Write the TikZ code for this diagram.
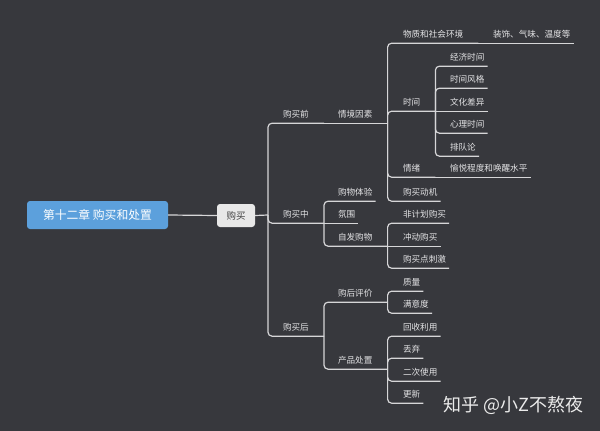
\documentclass[tikz,border=0pt]{standalone}
\usepackage{fontspec}
\newfontfamily\cjk{Noto Sans CJK SC}
\definecolor{bg}{RGB}{55,56,61}
\definecolor{linec}{RGB}{214,214,216}
\definecolor{txt}{RGB}{228,228,230}
\definecolor{rootblue}{RGB}{92,160,220}
\definecolor{buygray}{RGB}{232,232,232}
\begin{document}
\begin{tikzpicture}[x=1pt,y=-1pt,
  link/.style={draw=linec, line width=1.2pt, rounded corners=4pt},
  topic/.style={anchor=text, yshift=5.5pt, inner xsep=15pt, inner ysep=3.5pt,
    text height=7pt, text depth=2pt, text=txt, font=\cjk\fontsize{8.6}{10}\selectfont},
  leaf/.style={topic, inner xsep=3pt},
  rootbox/.style={fill=rootblue, rounded corners=3pt, minimum width=141pt, minimum height=28pt,
    inner sep=0pt, text=white, font=\cjk\fontsize{11.8}{14}\selectfont},
  buybox/.style={fill=buygray, rounded corners=3pt, minimum width=38pt, minimum height=23pt,
    inner sep=0pt, text=black!75, font=\cjk\fontsize{9.5}{12}\selectfont},
  sign/.style={anchor=west, inner sep=0pt, text=white!92!black, font=\cjk\fontsize{18}{20}\selectfont}]
\useasboundingbox (0,0) rectangle (600,431);
\fill[bg] (0,0) rectangle (600,431);

\node[rootbox] (root) at (97.5,215) {第十二章 购买和处置};
\node[buybox] (buy) at (236,215.5) {购买};
\coordinate (hub) at (268,215);
\draw[link] (root.east) -- (buy.west);
\draw[link] (buy.east) -- (hub);

\node[topic] (pre) at (283,123) {购买前};
\node[topic] (mid) at (283,223) {购买中};
\node[topic] (post) at (283,336) {购买后};
\foreach \c in {pre,mid,post} \draw[link] (hub) |- (\c.south east);

\node[topic] (sit) at (338,123) {情境因素};
\draw[link] (pre.south east) -- (sit.south east);

\node[leaf] (exp) at (338,201) {购物体验};
\node[leaf] (atm) at (338,223) {氛围};
\node[topic] (spon) at (338,246) {自发购物};
\draw[link] (mid.south east) -- (atm.south east);
\foreach \c in {exp,spon} \draw[link] (mid.south east) |- (\c.south east);

\node[topic] (eval) at (338,302) {购后评价};
\node[topic] (disp) at (338,369) {产品处置};
\foreach \c in {eval,disp} \draw[link] (post.south east) |- (\c.south east);

\node[topic] (env) at (403,43) {物质和社会环境};
\node[topic] (time) at (403,111) {时间};
\node[topic] (mood) at (403,177) {情绪};
\node[leaf] (motive) at (403,201) {购买动机};
\foreach \c in {env,time,mood,motive} \draw[link] (sit.south east) |- (\c.south east);

\node[leaf] (deco) at (493,43) {装饰、气味、温度等};
\draw[link] (env.south east) -- (deco.south east);

\node[leaf] (econ) at (450,66) {经济时间};
\node[leaf] (style) at (450,88) {时间风格};
\node[leaf] (cult) at (450,111) {文化差异};
\node[leaf] (psych) at (450,133) {心理时间};
\node[leaf] (queue) at (450,156) {排队论};
\draw[link] (time.south east) -- (cult.south east);
\foreach \c in {econ,style,psych,queue} \draw[link] (time.south east) |- (\c.south east);

\node[leaf] (arou) at (450,177) {愉悦程度和唤醒水平};
\draw[link] (mood.south east) -- (arou.south east);

\node[leaf] (unpl) at (403,223) {非计划购买};
\node[leaf] (impu) at (403,246) {冲动购买};
\node[leaf] (pop) at (403,268) {购买点刺激};
\draw[link] (spon.south east) -- (impu.south east);
\foreach \c in {unpl,pop} \draw[link] (spon.south east) |- (\c.south east);

\node[leaf] (qual) at (403,291) {质量};
\node[leaf] (sat) at (403,313) {满意度};
\foreach \c in {qual,sat} \draw[link] (eval.south east) |- (\c.south east);

\node[leaf] (recy) at (403,336) {回收利用};
\node[leaf] (drop) at (403,358) {丢弃};
\node[leaf] (reuse) at (403,381) {二次使用};
\node[leaf] (renew) at (403,403) {更新};
\foreach \c in {recy,drop,reuse,renew} \draw[link] (disp.south east) |- (\c.south east);

\node[sign] (zh) at (443,405) {知乎 @小Z不熬夜};
\end{tikzpicture}
\end{document}
